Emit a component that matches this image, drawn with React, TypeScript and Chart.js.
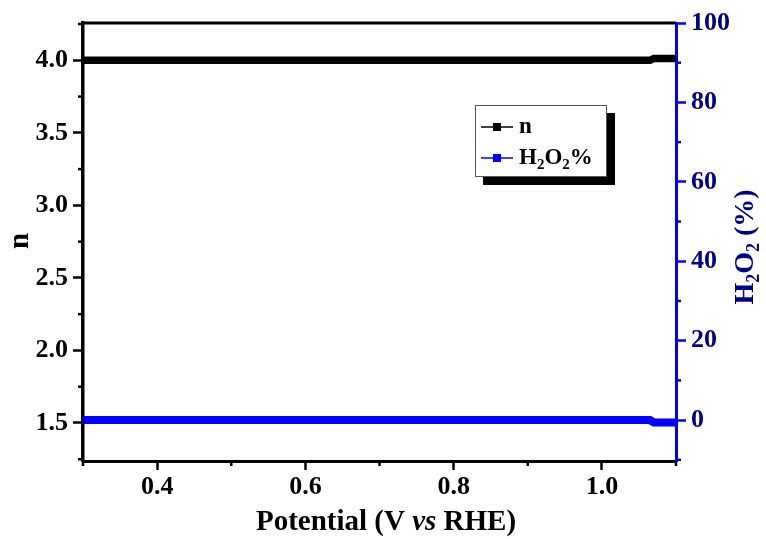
import React, { useEffect, useRef } from 'react';
import { Chart, registerables } from 'chart.js';

Chart.register(...registerables);

// ---- data ----
const potentials = [0.3, 0.35, 0.4, 0.45, 0.5, 0.55, 0.6, 0.65, 0.7, 0.75, 0.8, 0.85, 0.9, 0.95, 1.0, 1.05, 1.065, 1.07, 1.1];
const nValues = [4.0, 4.0, 4.0, 4.0, 4.0, 4.0, 4.0, 4.0, 4.0, 4.0, 4.0, 4.0, 4.0, 4.0, 4.0, 4.0, 4.0, 4.012, 4.012];
const h2o2Values = [0, 0, 0, 0, 0, 0, 0, 0, 0, 0, 0, 0, 0, 0, 0, 0, 0, -0.6, -0.6];

const xTicks = [0.4, 0.6, 0.8, 1.0];
const xMinorTicks = [0.3, 0.5, 0.7, 0.9, 1.1];
const nTicks = [1.5, 2.0, 2.5, 3.0, 3.5, 4.0];
const nMinorTicks = [1.25, 1.75, 2.25, 2.75, 3.25, 3.75, 4.25];
const h2o2Ticks = [0, 20, 40, 60, 80, 100];
const h2o2MinorTicks = [-10, 10, 30, 50, 70, 90];

const seriesLabels = ['n', 'H2O2%'];

const FONT = '"Liberation Serif", "Times New Roman", serif';
const NAVY = '#00008f';
const BLUE = '#0000ff';

type Seg = { t: string; size: number; italic?: boolean; dy?: number };

function drawRich(ctx: CanvasRenderingContext2D, segs: Seg[], x: number, y: number, align: 'left' | 'center') {
  const fontFor = (s: Seg) => `${s.italic ? 'italic ' : ''}bold ${s.size}px ${FONT}`;
  let total = 0;
  segs.forEach((s) => {
    ctx.font = fontFor(s);
    total += ctx.measureText(s.t).width;
  });
  let cx = align === 'center' ? x - total / 2 : x;
  ctx.textAlign = 'left';
  ctx.textBaseline = 'alphabetic';
  segs.forEach((s) => {
    ctx.font = fontFor(s);
    ctx.fillText(s.t, cx, y + (s.dy || 0));
    cx += ctx.measureText(s.t).width;
  });
}

const decorPlugin = {
  id: 'decor',
  afterDraw(chart: any) {
    const ctx: CanvasRenderingContext2D = chart.ctx;
    const { left, right, top, bottom } = chart.chartArea;
    const xs = chart.scales.x;
    const ys = chart.scales.y;
    const y1 = chart.scales.y1;
    ctx.save();
    // top frame line
    ctx.strokeStyle = '#000';
    ctx.lineWidth = 3;
    ctx.beginPath();
    ctx.moveTo(left, top);
    ctx.lineTo(right, top);
    ctx.stroke();
    // minor ticks
    ctx.lineWidth = 2.5;
    xMinorTicks.forEach((v) => {
      const p = xs.getPixelForValue(v);
      ctx.beginPath();
      ctx.moveTo(p, bottom);
      ctx.lineTo(p, bottom + 5);
      ctx.stroke();
    });
    nMinorTicks.forEach((v) => {
      const p = ys.getPixelForValue(v);
      ctx.beginPath();
      ctx.moveTo(left - 5, p);
      ctx.lineTo(left, p);
      ctx.stroke();
    });
    ctx.strokeStyle = BLUE;
    h2o2MinorTicks.forEach((v) => {
      const p = y1.getPixelForValue(v);
      ctx.beginPath();
      ctx.moveTo(right, p);
      ctx.lineTo(right + 5, p);
      ctx.stroke();
    });

    // axis titles
    ctx.fillStyle = '#000';
    drawRich(ctx, [
      { t: 'Potential (V ', size: 29 },
      { t: 'vs', size: 29, italic: true },
      { t: ' RHE)', size: 29 },
    ], 386, 530, 'center');

    ctx.save();
    ctx.translate(28, 241);
    ctx.rotate(-Math.PI / 2);
    drawRich(ctx, [{ t: 'n', size: 29 }], 0, 0, 'center');
    ctx.restore();

    ctx.save();
    ctx.fillStyle = NAVY;
    ctx.translate(753, 247);
    ctx.rotate(-Math.PI / 2);
    drawRich(ctx, [
      { t: 'H', size: 28 },
      { t: '2', size: 18, dy: 6 },
      { t: 'O', size: 28 },
      { t: '2', size: 18, dy: 6 },
      { t: ' (%)', size: 28 },
    ], 0, 0, 'center');
    ctx.restore();

    // legend
    ctx.fillStyle = '#000';
    ctx.fillRect(483, 113, 132, 72);
    ctx.fillStyle = '#fff';
    ctx.fillRect(475, 105, 132, 72);
    ctx.strokeStyle = '#555';
    ctx.lineWidth = 1;
    ctx.strokeRect(475.5, 105.5, 131, 71);

    const rows = [
      { color: '#000', y: 127, label: [{ t: seriesLabels[0], size: 23 }] as Seg[] },
      {
        color: BLUE,
        y: 158,
        label: [
          { t: 'H', size: 23 },
          { t: '2', size: 15, dy: 5 },
          { t: 'O', size: 23 },
          { t: '2', size: 15, dy: 5 },
          { t: '%', size: 23 },
        ] as Seg[],
      },
    ];
    rows.forEach((r) => {
      ctx.strokeStyle = r.color;
      ctx.lineWidth = 1.5;
      ctx.beginPath();
      ctx.moveTo(481, r.y);
      ctx.lineTo(513, r.y);
      ctx.stroke();
      ctx.fillStyle = r.color;
      ctx.fillRect(493, r.y - 4, 8, 8);
      ctx.fillStyle = '#000';
      drawRich(ctx, r.label, 519, r.y + 6, 'left');
    });
    ctx.restore();
  },
};

const tickFont = { family: FONT, size: 26, weight: 'bold' as const };

export default function App() {
  const ref = useRef<HTMLCanvasElement | null>(null);
  useEffect(() => {
    if (!ref.current) return;
    const chart = new Chart(ref.current, {
      type: 'line',
      data: {
        datasets: [
          {
            label: seriesLabels[0],
            data: potentials.map((p, i) => ({ x: p, y: nValues[i] })),
            borderColor: '#000',
            backgroundColor: '#000',
            borderWidth: 7.5,
            pointRadius: 0,
            yAxisID: 'y',
          },
          {
            label: seriesLabels[1],
            data: potentials.map((p, i) => ({ x: p, y: h2o2Values[i] })),
            borderColor: BLUE,
            backgroundColor: BLUE,
            borderWidth: 8,
            pointRadius: 0,
            yAxisID: 'y1',
          },
        ],
      },
      options: {
        animation: false,
        responsive: false,
        devicePixelRatio: 1,
        layout: { padding: { top: 23, left: 0, right: 0, bottom: 0 } },
        plugins: { legend: { display: false }, tooltip: { enabled: false } },
        scales: {
          x: {
            type: 'linear',
            position: 'bottom',
            min: 0.3,
            max: 1.1,
            afterBuildTicks: (s: any) => { s.ticks = xTicks.map((v) => ({ value: v })); },
            afterFit: (s: any) => { s.height = 78; },
            ticks: { font: tickFont, color: '#000', padding: 2, maxRotation: 0, callback: (v: any) => Number(v).toFixed(1) },
            grid: { drawOnChartArea: false, tickLength: 9, tickWidth: 2.5, tickColor: '#000' },
            border: { color: '#000', width: 3 },
          },
          y: {
            type: 'linear',
            position: 'left',
            min: 1.238,
            max: 4.257,
            afterBuildTicks: (s: any) => { s.ticks = nTicks.map((v) => ({ value: v })); },
            afterFit: (s: any) => { s.width = 83; },
            ticks: { font: tickFont, color: '#000', padding: 5, callback: (v: any) => Number(v).toFixed(1) },
            grid: { drawOnChartArea: false, tickLength: 10, tickWidth: 2.5, tickColor: '#000' },
            border: { color: '#000', width: 3.5 },
          },
          y1: {
            type: 'linear',
            position: 'right',
            min: -10.3,
            max: 100,
            afterBuildTicks: (s: any) => { s.ticks = h2o2Ticks.map((v) => ({ value: v })); },
            afterFit: (s: any) => { s.width = 90; },
            ticks: { font: tickFont, color: NAVY, padding: 5, callback: (v: any) => String(v) },
            grid: { drawOnChartArea: false, tickLength: 10, tickWidth: 2.5, tickColor: BLUE },
            border: { color: BLUE, width: 3 },
          },
        },
      },
      plugins: [decorPlugin],
    });
    return () => chart.destroy();
  }, []);
  return (
    <div style={{ position: 'absolute', left: 0, top: 0, width: 766, height: 539, background: '#fff' }}>
      <canvas ref={ref} width={766} height={539} style={{ display: 'block' }} />
    </div>
  );
}
